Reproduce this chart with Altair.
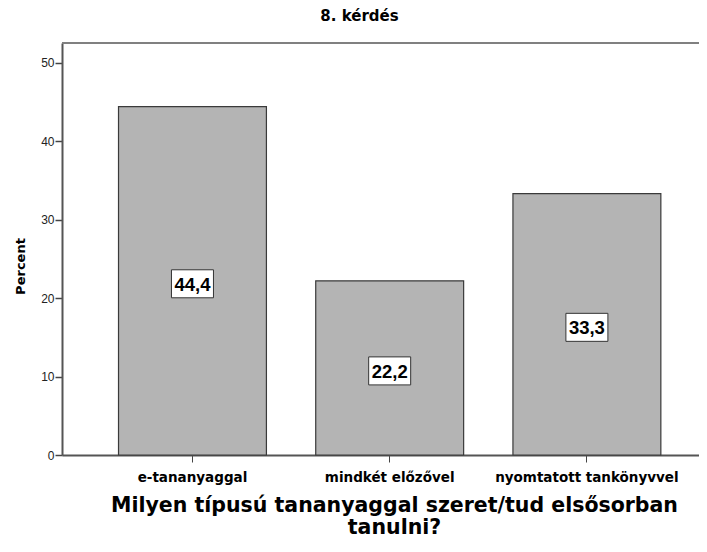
import altair as alt
import pandas as pd

categories = ["e-tananyaggal", "mindkét előzővel", "nyomtatott tankönyvvel"]
percents = [44.4, 22.2, 33.3]
labels = ["44,4", "22,2", "33,3"]

W, H = 637, 412
YMAX = 52.5
UNIT = H / YMAX  # px per percent

df = pd.DataFrame({"cat": categories, "pct": percents, "lab": labels})

ARIAL = "Liberation Sans"
WIDE = "DejaVu Sans"

x_enc = alt.X(
    "cat:N",
    sort=categories,
    scale=alt.Scale(paddingInner=0.25, paddingOuter=0.24, align=0.597),
    axis=alt.Axis(
        title=["Milyen típusú tananyaggal szeret/tud elsősorban", "tanulni?"],
        titleFont=WIDE, titleFontSize=20.5, titleFontWeight="bold", titleColor="#000",
        titleX=332, titleY=40, titleAlign="center", titleBaseline="top", titleLineHeight=22,
        labelFont=WIDE, labelFontSize=13.5, labelFontWeight="bold", labelColor="#000",
        labelAngle=0, labelPadding=8, labelLimit=0, tickSize=7, tickColor="#444", tickWidth=1,
        domainColor="#555", domainWidth=2,
    ),
)

y_axis = alt.Axis(
    title="Percent",
    titleFont=WIDE, titleFontSize=13, titleFontWeight="bold", titleColor="#000",
    titleX=-42, titleY=223, titleAngle=-90, titleAlign="center", titleBaseline="middle",
    labelFont=ARIAL, labelFontSize=12, labelColor="#222", labelPadding=1,
    values=[0, 10, 20, 30, 40, 50], tickSize=7, tickColor="#444", tickWidth=1.5,
    domainColor="#555", domainWidth=2, grid=False,
)

base = alt.Chart(df)

bars = base.mark_bar(fill="#B4B4B4", stroke="#3a3a3a", strokeWidth=1.2).encode(
    x=x_enc,
    y=alt.Y("pct:Q", scale=alt.Scale(domain=[0, YMAX], nice=False), axis=y_axis),
)

boxes = base.transform_calculate(
    lo=f"datum.pct/2 - {3/UNIT} - {14/UNIT}",
    hi=f"datum.pct/2 - {3/UNIT} + {14/UNIT}",
).mark_bar(width=42, fill="white", stroke="#333", strokeWidth=1).encode(
    x=alt.X("cat:N", sort=categories),
    y="lo:Q",
    y2="hi:Q",
)

texts = base.transform_calculate(
    mid=f"datum.pct/2 - {3/UNIT}"
).mark_text(font=ARIAL, fontSize=18.5, fontWeight="bold", color="#000", baseline="middle", dy=1).encode(
    x=alt.X("cat:N", sort=categories),
    y="mid:Q",
    text="lab:N",
)

top_line = base.mark_rule(color="#808080", strokeWidth=2).encode(
    x=alt.value(0), x2=alt.value(W), y=alt.value(0)
)

chart = alt.layer(bars, boxes, texts, top_line).properties(
    width=W,
    height=H,
    title=alt.TitleParams(
        "8. kérdés", font=WIDE, fontSize=15, fontWeight="bold", color="#000",
        anchor="middle", frame="group", dx=-21, offset=6, baseline="alphabetic",
    ),
    autosize=alt.AutoSizeParams(type="none"),
    padding={"left": 54, "top": 35, "right": 0, "bottom": 87},
).configure_view(fill="#F0F0F0", stroke=None).configure(background="white")

chart.save("out.html", embed_options={"renderer": "svg", "actions": False})
